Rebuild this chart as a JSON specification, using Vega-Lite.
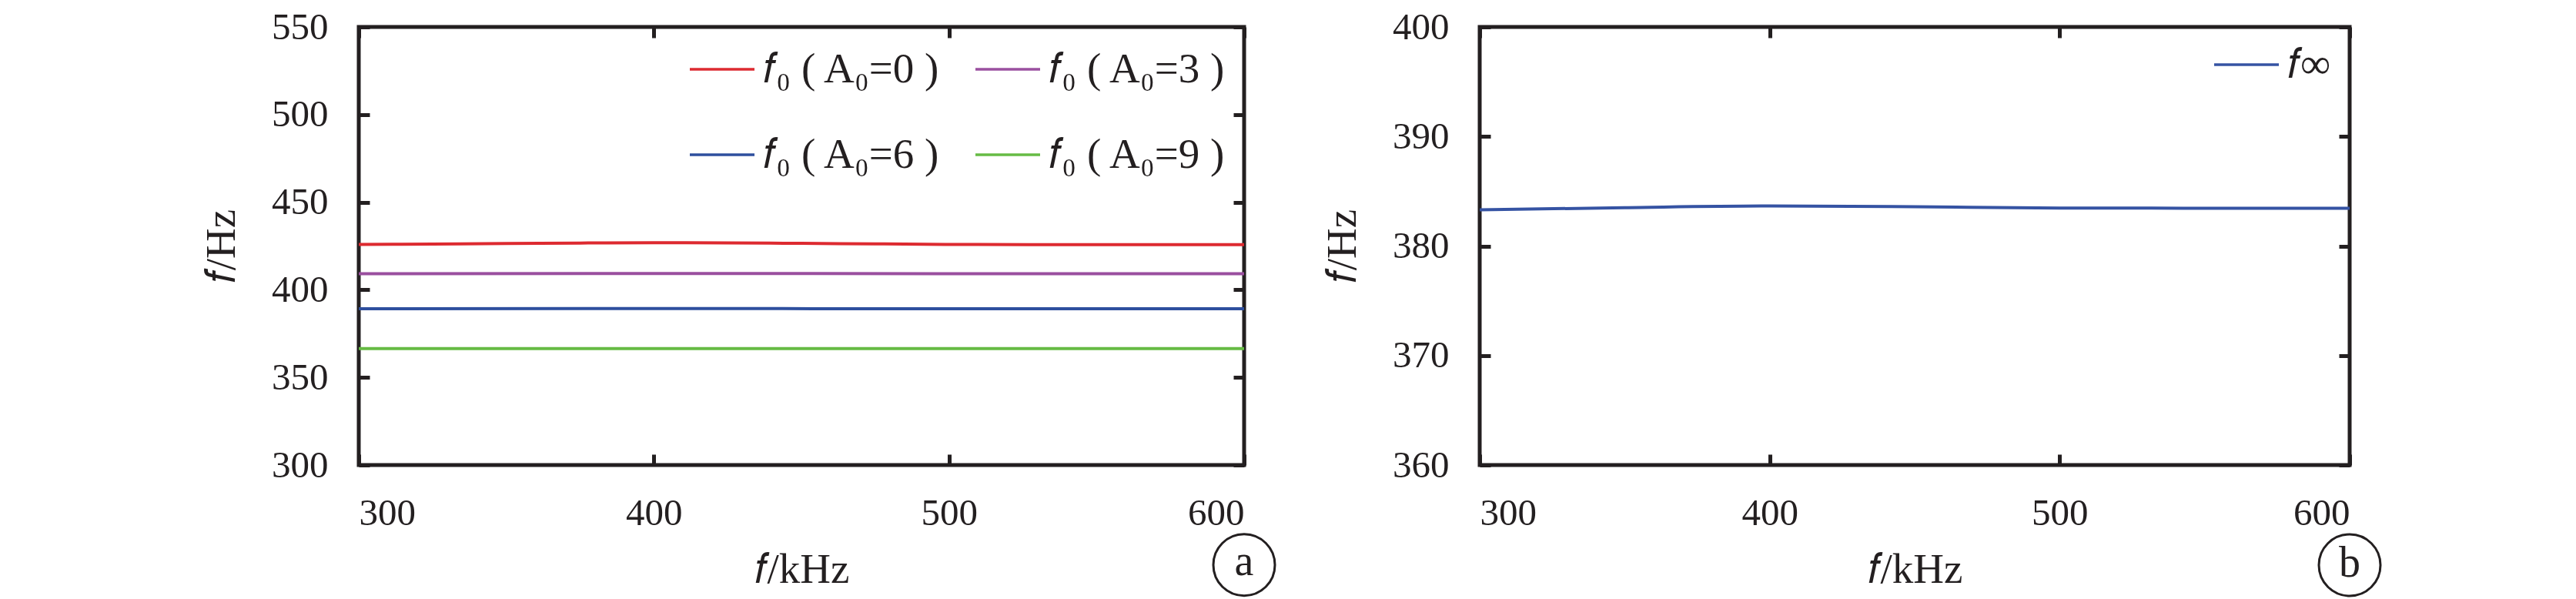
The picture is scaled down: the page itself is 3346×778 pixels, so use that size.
{
  "$schema": "https://vega.github.io/schema/vega-lite/v6.json",
  "padding": {"left": 258, "top": 8, "right": 0, "bottom": 0},
  "background": "white",
  "spacing": 49,
  "resolve": {"scale": {"color": "independent"}, "legend": {"color": "independent"}},
  "config": {
    "font": "Liberation Serif",
    "view": {"stroke": "#231f20", "strokeWidth": 5},
    "axis": {"grid": false, "domain": false, "tickColor": "#231f20", "tickWidth": 5, "tickSize": -14, "labelFont": "Liberation Serif", "labelFontSize": 49, "labelColor": "#231f20", "titleFont": "Liberation Serif", "titleFontSize": 55, "titleFontWeight": "normal", "titleColor": "#231f20"},
    "axisX": {"labelPadding": 52, "titlePadding": 22},
    "axisY": {"labelPadding": 54, "titlePadding": 36},
    "legend": {"title": null, "symbolType": "stroke", "symbolSize": 7056, "symbolStrokeWidth": 3.5, "labelFont": "Liberation Serif", "labelFontSize": 55, "labelColor": "#231f20", "labelOffset": 9, "labelLimit": 0, "padding": 0}
  },
  "datasets": {
    "a": [
      {"f": 300, "v": 425.9, "s": "𝑓₀ ( A₀=0 )"},
      {"f": 325, "v": 426.1, "s": "𝑓₀ ( A₀=0 )"},
      {"f": 350, "v": 426.4, "s": "𝑓₀ ( A₀=0 )"},
      {"f": 375, "v": 426.7, "s": "𝑓₀ ( A₀=0 )"},
      {"f": 400, "v": 426.9, "s": "𝑓₀ ( A₀=0 )"},
      {"f": 425, "v": 426.8, "s": "𝑓₀ ( A₀=0 )"},
      {"f": 450, "v": 426.5, "s": "𝑓₀ ( A₀=0 )"},
      {"f": 475, "v": 426.2, "s": "𝑓₀ ( A₀=0 )"},
      {"f": 500, "v": 425.9, "s": "𝑓₀ ( A₀=0 )"},
      {"f": 550, "v": 425.8, "s": "𝑓₀ ( A₀=0 )"},
      {"f": 600, "v": 425.8, "s": "𝑓₀ ( A₀=0 )"},
      {"f": 300, "v": 409.2, "s": "𝑓₀ ( A₀=3 )"},
      {"f": 400, "v": 409.3, "s": "𝑓₀ ( A₀=3 )"},
      {"f": 500, "v": 409.2, "s": "𝑓₀ ( A₀=3 )"},
      {"f": 600, "v": 409.2, "s": "𝑓₀ ( A₀=3 )"},
      {"f": 300, "v": 389.2, "s": "𝑓₀ ( A₀=6 )"},
      {"f": 400, "v": 389.3, "s": "𝑓₀ ( A₀=6 )"},
      {"f": 500, "v": 389.2, "s": "𝑓₀ ( A₀=6 )"},
      {"f": 600, "v": 389.2, "s": "𝑓₀ ( A₀=6 )"},
      {"f": 300, "v": 366.4, "s": "𝑓₀ ( A₀=9 )"},
      {"f": 400, "v": 366.4, "s": "𝑓₀ ( A₀=9 )"},
      {"f": 500, "v": 366.4, "s": "𝑓₀ ( A₀=9 )"},
      {"f": 600, "v": 366.4, "s": "𝑓₀ ( A₀=9 )"}
    ],
    "b": [
      {"f": 300, "v": 383.3, "s": "𝑓∞"},
      {"f": 350, "v": 383.5, "s": "𝑓∞"},
      {"f": 400, "v": 383.65, "s": "𝑓∞"},
      {"f": 450, "v": 383.58, "s": "𝑓∞"},
      {"f": 500, "v": 383.47, "s": "𝑓∞"},
      {"f": 550, "v": 383.45, "s": "𝑓∞"},
      {"f": 600, "v": 383.45, "s": "𝑓∞"}
    ]
  },
  "hconcat": [
    {
      "width": 1150,
      "height": 569,
      "resolve": {"axis": {"x": "independent", "y": "independent"}},
      "layer": [
        {
          "data": {"name": "a"},
          "mark": {"type": "line", "strokeWidth": 4, "interpolate": "monotone"},
          "encoding": {
            "x": {"field": "f", "type": "quantitative", "scale": {"domain": [300, 600], "nice": false, "zero": false}, "axis": {"orient": "bottom", "values": [300, 400, 500, 600], "title": "𝑓/kHz"}},
            "y": {"field": "v", "type": "quantitative", "scale": {"domain": [300, 550], "nice": false, "zero": false}, "axis": {"orient": "left", "values": [300, 350, 400, 450, 500, 550], "title": "𝑓/Hz"}},
            "color": {
              "field": "s", "type": "nominal",
              "scale": {"domain": ["𝑓₀ ( A₀=0 )", "𝑓₀ ( A₀=6 )", "𝑓₀ ( A₀=3 )", "𝑓₀ ( A₀=9 )"], "range": ["#dd2a30", "#2e4f9e", "#9a4f9f", "#66bb44"]},
              "legend": {"orient": "top-right", "columns": 2, "columnPadding": 42, "rowPadding": 45, "clipHeight": 66, "offset": 22}
            }
          }
        },
        {
          "data": {"values": [{"lab": "a"}]},
          "mark": {"type": "point", "shape": "circle", "size": 6400, "filled": false, "stroke": "#231f20", "strokeWidth": 3, "opacity": 1, "clip": false},
          "encoding": {
            "x": {"datum": 600, "type": "quantitative", "axis": {"orient": "top", "values": [300, 400, 500, 600], "labels": false, "title": null}},
            "y": {"datum": 243, "type": "quantitative", "axis": {"orient": "right", "values": [300, 350, 400, 450, 500, 550], "labels": false, "title": null}}
          }
        },
        {
          "data": {"values": [{"lab": "a"}]},
          "mark": {"type": "text", "fontSize": 56, "baseline": "middle", "dy": -4, "color": "#231f20", "clip": false},
          "encoding": {
            "x": {"datum": 600, "type": "quantitative", "axis": null},
            "y": {"datum": 243, "type": "quantitative", "axis": null},
            "text": {"field": "lab"}
          }
        }
      ]
    },
    {
      "width": 1130,
      "height": 569,
      "resolve": {"axis": {"x": "independent", "y": "independent"}},
      "layer": [
        {
          "data": {"name": "b"},
          "mark": {"type": "line", "strokeWidth": 4, "interpolate": "monotone"},
          "encoding": {
            "x": {"field": "f", "type": "quantitative", "scale": {"domain": [300, 600], "nice": false, "zero": false}, "axis": {"orient": "bottom", "values": [300, 400, 500, 600], "title": "𝑓/kHz"}},
            "y": {"field": "v", "type": "quantitative", "scale": {"domain": [360, 400], "nice": false, "zero": false}, "axis": {"orient": "left", "values": [360, 370, 380, 390, 400], "title": "𝑓/Hz"}},
            "color": {
              "field": "s", "type": "nominal",
              "scale": {"domain": ["𝑓∞"], "range": ["#3553a3"]},
              "legend": {"orient": "top-right", "clipHeight": 50, "offset": 24}
            }
          }
        },
        {
          "data": {"values": [{"lab": "b"}]},
          "mark": {"type": "point", "shape": "circle", "size": 6400, "filled": false, "stroke": "#231f20", "strokeWidth": 3, "opacity": 1, "clip": false},
          "encoding": {
            "x": {"datum": 600, "type": "quantitative", "axis": {"orient": "top", "values": [300, 400, 500, 600], "labels": false, "title": null}},
            "y": {"datum": 350.86, "type": "quantitative", "axis": {"orient": "right", "values": [360, 370, 380, 390, 400], "labels": false, "title": null}}
          }
        },
        {
          "data": {"values": [{"lab": "b"}]},
          "mark": {"type": "text", "fontSize": 56, "baseline": "middle", "dy": -2, "color": "#231f20", "clip": false},
          "encoding": {
            "x": {"datum": 600, "type": "quantitative", "axis": null},
            "y": {"datum": 350.86, "type": "quantitative", "axis": null},
            "text": {"field": "lab"}
          }
        }
      ]
    }
  ]
}
